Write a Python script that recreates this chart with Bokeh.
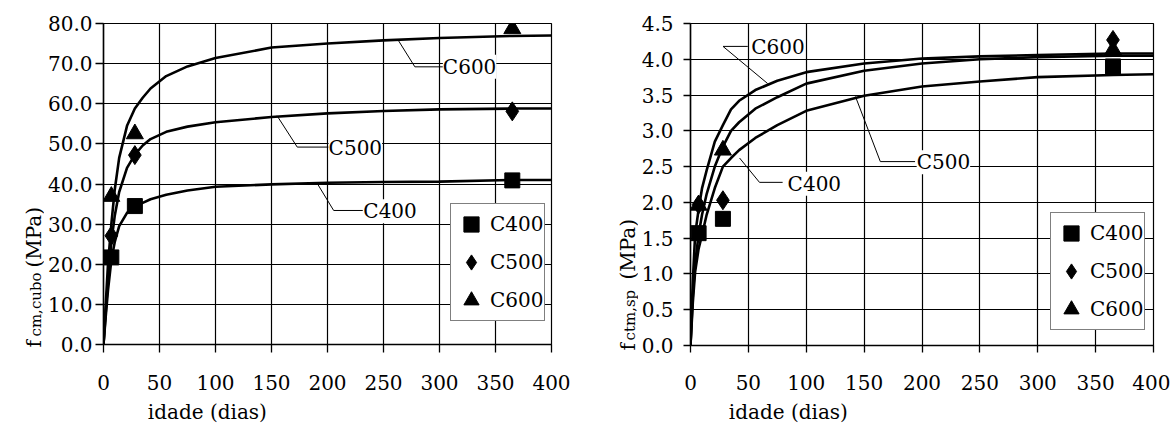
import math
from bokeh.plotting import figure
from bokeh.layouts import row, column
from bokeh.models import (Range1d, FixedTicker, NumeralTickFormatter, Label,
                          Legend, LegendItem)
from bokeh.embed import file_html
from bokeh.resources import INLINE

FONT = "DejaVu Serif"
FS = "20px"
FS_SUB = "15px"

# ---------------- data ----------------
days = [0, 2, 4, 7, 10, 14, 21, 28, 35, 42, 56, 75, 100, 150, 200, 250, 300, 365, 400]

# compressive strength curves f_cm,cubo (MPa)
cube_c400 = [0, 7.0, 13.5, 21.0, 25.5, 29.5, 32.8, 34.3, 35.3, 36.2, 37.3, 38.4, 39.3, 39.9, 40.3, 40.5, 40.6, 41.0, 41.0]
cube_c500 = [0, 8.0, 16.0, 25.5, 32.0, 38.0, 44.0, 47.3, 49.6, 51.2, 53.0, 54.3, 55.4, 56.7, 57.6, 58.2, 58.6, 58.8, 58.8]
cube_c600 = [0, 10.0, 20.0, 30.0, 38.5, 46.5, 54.5, 58.8, 61.5, 63.8, 66.9, 69.3, 71.4, 74.0, 75.0, 75.8, 76.4, 76.9, 77.0]

# splitting tensile strength curves f_ctm,sp (MPa)
split_c400 = [0, 0.60, 1.03, 1.35, 1.55, 1.83, 2.20, 2.50, 2.62, 2.73, 2.90, 3.08, 3.28, 3.49, 3.62, 3.69, 3.75, 3.78, 3.79]
split_c500 = [0, 0.70, 1.15, 1.55, 1.83, 2.12, 2.50, 2.78, 3.00, 3.12, 3.31, 3.47, 3.66, 3.84, 3.94, 4.00, 4.03, 4.05, 4.05]
split_c600 = [0, 0.90, 1.55, 1.90, 2.20, 2.45, 2.85, 3.08, 3.30, 3.42, 3.57, 3.70, 3.82, 3.94, 4.01, 4.04, 4.06, 4.08, 4.08]

# measured values
test_days = [7, 28, 365]
cube_pts_c400 = [21.7, 34.5, 40.9]
cube_pts_c500 = [27.1, 47.2, 58.1]
cube_pts_c600 = [36.9, 52.5, 78.7]
split_pts_c400 = [1.57, 1.77, 3.90]
split_pts_c500 = [1.97, 2.03, 4.27]
split_pts_c600 = [1.96, 2.73, 4.13]

series_names = ["C400", "C500", "C600"]
x_ticks = [0, 50, 100, 150, 200, 250, 300, 350, 400]
cube_ticks = [0, 10, 20, 30, 40, 50, 60, 70, 80]
split_ticks = [0, 0.5, 1.0, 1.5, 2.0, 2.5, 3.0, 3.5, 4.0, 4.5]


def base_fig(width, y_end, y_ticks, mb_left, mb_right, mb_bottom, tick_out, y_standoff):
    p = figure(width=width, height=398, output_backend="svg", toolbar_location=None,
               x_range=Range1d(0, 400), y_range=Range1d(0, y_end),
               min_border_left=mb_left, min_border_right=mb_right,
               min_border_top=23, min_border_bottom=mb_bottom)
    p.background_fill_color = "white"
    p.border_fill_color = "white"
    p.outline_line_color = "black"
    p.outline_line_width = 1.2
    p.xaxis.ticker = FixedTicker(ticks=x_ticks)
    p.yaxis.ticker = FixedTicker(ticks=y_ticks)
    p.yaxis.formatter = NumeralTickFormatter(format="0.0")
    for ax in (p.xaxis[0], p.yaxis[0]):
        ax.axis_line_color = "black"
        ax.axis_line_width = 1.5
        ax.major_tick_line_color = "black"
        ax.major_tick_line_width = 1.3
        ax.major_tick_out = tick_out
        ax.major_tick_in = 0
        ax.minor_tick_line_color = None
        ax.major_label_text_font = FONT
        ax.major_label_text_font_size = FS
        ax.major_label_text_color = "black"
    p.xaxis.major_label_standoff = 22
    p.yaxis.major_label_standoff = y_standoff
    for g in (p.xgrid[0], p.ygrid[0]):
        g.grid_line_color = "black"
        g.grid_line_width = 1.2
    p.xgrid.ticker = FixedTicker(ticks=x_ticks)
    p.ygrid.ticker = FixedTicker(ticks=y_ticks)
    return p


def add_series(p, curves, pts, legend_loc):
    for c in curves:
        p.line(days, c, line_color="black", line_width=2.6)
    markers = [("square", 15), ("diamond", 19), ("triangle", 17)]
    items = []
    for name, (mk, sz), vals in zip(series_names, markers, pts):
        r = p.scatter(test_days, vals, marker=mk, size=sz,
                      fill_color="black", line_color="black")
        items.append(LegendItem(label=name, renderers=[r]))
    leg = Legend(items=items, location=legend_loc, margin=0, padding=1,
                 spacing=0, glyph_width=38, glyph_height=38, label_standoff=0,
                 label_text_font=FONT, label_text_font_size=FS,
                 label_text_color="black",
                 border_line_color="black", border_line_width=1,
                 background_fill_color="white", background_fill_alpha=1)
    p.add_layout(leg)


def add_callout(p, xs, ys, text, lx, ly):
    p.line(xs, ys, line_color="black", line_width=1)
    p.add_layout(Label(x=lx, y=ly, text=text, text_font=FONT, text_font_size=FS,
                       text_color="black", text_baseline="middle", text_align="left",
                       background_fill_color="white", background_fill_alpha=1))


def text_panel(width, height):
    q = figure(width=width, height=height, output_backend="svg", toolbar_location=None,
               x_range=Range1d(0, width), y_range=Range1d(0, height),
               x_axis_location=None, y_axis_location=None, min_border=0)
    for g in q.grid:
        g.visible = False
    q.outline_line_color = None
    q.background_fill_color = "white"
    q.border_fill_color = "white"
    return q


def put(q, x, y, text, size=FS, angle=0.0, baseline="alphabetic"):
    q.add_layout(Label(x=x, y=y, text=text, angle=angle, text_font=FONT,
                       text_font_size=size, text_baseline=baseline,
                       text_align="left", text_color="black"))


V = math.pi / 2

# ---------------- left chart ----------------
p1 = base_fig(536, 80, cube_ticks, 56, 29, 54, 8, 3)
add_series(p1, [cube_c400, cube_c500, cube_c600],
           [cube_pts_c400, cube_pts_c500, cube_pts_c600], (347, 23))
add_callout(p1, [263, 278, 303], [75.9, 69.2, 69.2], "C600", 303, 69.2)
add_callout(p1, [155, 173, 201], [57.0, 49.2, 49.2], "C500", 201, 49.0)
add_callout(p1, [190.7, 205.5, 231.5], [40.2, 33.4, 33.4], "C400", 232, 33.2)

ylab1 = text_panel(44, 425)
put(ylab1, 33, 78, "f", angle=V)
put(ylab1, 35.5, 89, "cm,cubo", size=FS_SUB, angle=V)
put(ylab1, 33, 158, "(MPa)", angle=V)

xlab1 = text_panel(536, 27)
put(xlab1, 53, 14, "idade (dias)", baseline="middle")

# ---------------- right chart ----------------
p2 = base_fig(532, 4.5, split_ticks, 49, 17, 53, 7, 10)
add_series(p2, [split_c400, split_c500, split_c600],
           [split_pts_c400, split_pts_c500, split_pts_c600], (360, 15))
add_callout(p2, [66.7, 28.1, 49.5], [3.66, 4.18, 4.18], "C600", 52.4, 4.17)
add_callout(p2, [42.4, 59.6, 79.6], [2.62, 2.28, 2.28], "C400", 83.9, 2.26)
add_callout(p2, [142.5, 164, 194], [3.48, 2.57, 2.57], "C500", 195.4, 2.56)

ylab2 = text_panel(58, 425)
put(ylab2, 47, 75, "f", angle=V)
put(ylab2, 49.5, 85, "ctm,sp", size=FS_SUB, angle=V)
put(ylab2, 47, 146, "(MPa)", angle=V)

xlab2 = text_panel(532, 27)
put(xlab2, 44, 14, "idade (dias)", baseline="middle")

layout = row(ylab1, column(p1, xlab1), ylab2, column(p2, xlab2))
open("out.html", "w").write(file_html(layout, INLINE))
